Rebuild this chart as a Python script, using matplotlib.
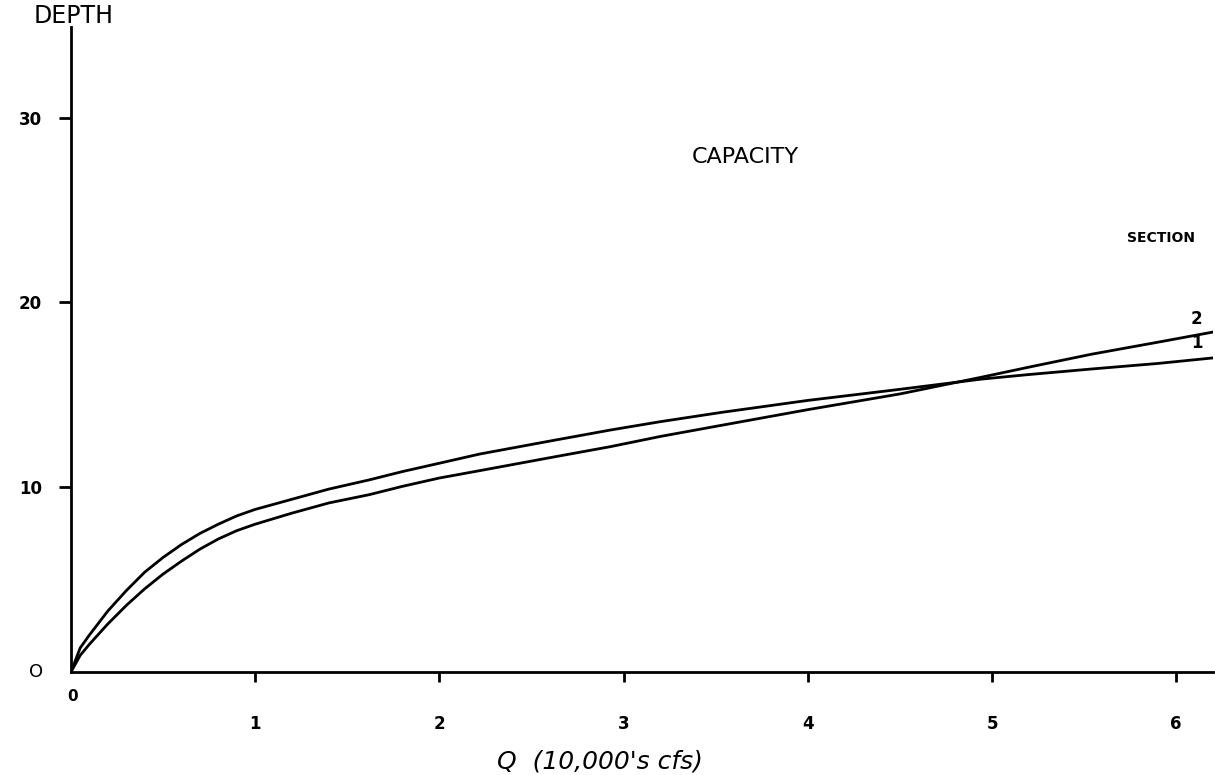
import matplotlib
matplotlib.use('Agg')
from matplotlib import pyplot as plt

# capacity curves
q_sec1 = [0, 0.05, 0.1, 0.2, 0.3, 0.4, 0.5, 0.6, 0.7, 0.8, 0.9, 1.0, 1.2, 1.4, 1.62, 1.8, 2.0, 2.22,
          2.6, 2.93, 3.2, 3.53, 4.0, 4.5, 4.94, 5.2, 5.54, 5.9, 6.2]
depth_sec1 = [0, 1.3, 2.0, 3.3, 4.4, 5.4, 6.2, 6.9, 7.5, 8.0, 8.45, 8.8, 9.35, 9.9, 10.4, 10.85, 11.3, 11.8,
              12.5, 13.1, 13.55, 14.05, 14.7, 15.3, 15.85, 16.1, 16.4, 16.7, 17.0]

q_sec2 = [0, 0.05, 0.1, 0.2, 0.3, 0.4, 0.5, 0.6, 0.7, 0.8, 0.9, 1.0, 1.2, 1.4, 1.62, 1.8, 2.0, 2.22,
          2.6, 2.93, 3.2, 3.53, 4.0, 4.5, 4.94, 5.2, 5.54, 5.9, 6.2]
depth_sec2 = [0, 0.9, 1.5, 2.6, 3.6, 4.5, 5.3, 6.0, 6.65, 7.2, 7.65, 8.0, 8.6, 9.15, 9.6, 10.05, 10.5, 10.9,
              11.6, 12.2, 12.75, 13.35, 14.2, 15.05, 15.95, 16.5, 17.2, 17.85, 18.4]

x_ticks = [1, 2, 3, 4, 5, 6]
x_tick_labels = ['1', '2', '3', '4', '5', '6']
y_ticks = [10, 20, 30]
y_tick_labels = ['10', '20', '30']

fig = plt.figure(figsize=(12.15, 7.75), dpi=100)
ax = fig.add_axes([0.0584, 0.1329, 0.94, 0.832])

ax.plot(q_sec1, depth_sec1, color='black', lw=2.0)
ax.plot(q_sec2, depth_sec2, color='black', lw=2.0)

ax.set_xlim(0, 6.2)
ax.set_ylim(0, 34.9)

for side in ['top', 'right']:
    ax.spines[side].set_visible(False)
for side in ['left', 'bottom']:
    ax.spines[side].set_linewidth(2.0)

ax.set_xticks(x_ticks)
ax.set_xticklabels(x_tick_labels, fontsize=12, fontweight='bold')
ax.set_yticks(y_ticks)
ax.set_yticklabels(y_tick_labels, fontsize=12, fontweight='bold')
ax.tick_params(axis='x', direction='out', length=7, width=2, pad=24)
ax.tick_params(axis='y', direction='out', length=9, width=2, pad=12)

# zero labels at the origin
ax.text(-0.19, 0, 'O', fontsize=13, ha='center', va='center', clip_on=False)
ax.text(0.01, -1.3, '0', fontsize=11, fontweight='bold', ha='center', va='center', clip_on=False)

ax.text(-0.2, 35.5, 'DEPTH', fontsize=17, ha='left', va='center', clip_on=False)
ax.text(3.66, 27.9, 'CAPACITY', fontsize=16, ha='center', va='center')
ax.text(5.92, 23.5, 'SECTION', fontsize=10, fontweight='bold', ha='center', va='center')
ax.text(6.11, 19.1, '2', fontsize=12, fontweight='bold', ha='center', va='center')
ax.text(6.11, 17.8, '1', fontsize=12, fontweight='bold', ha='center', va='center')

ax.set_xlabel("Q  (10,000's cfs)", fontsize=18, fontstyle='italic')
ax.xaxis.set_label_coords(0.463, -0.12)

fig.savefig('out.png', dpi=100)
